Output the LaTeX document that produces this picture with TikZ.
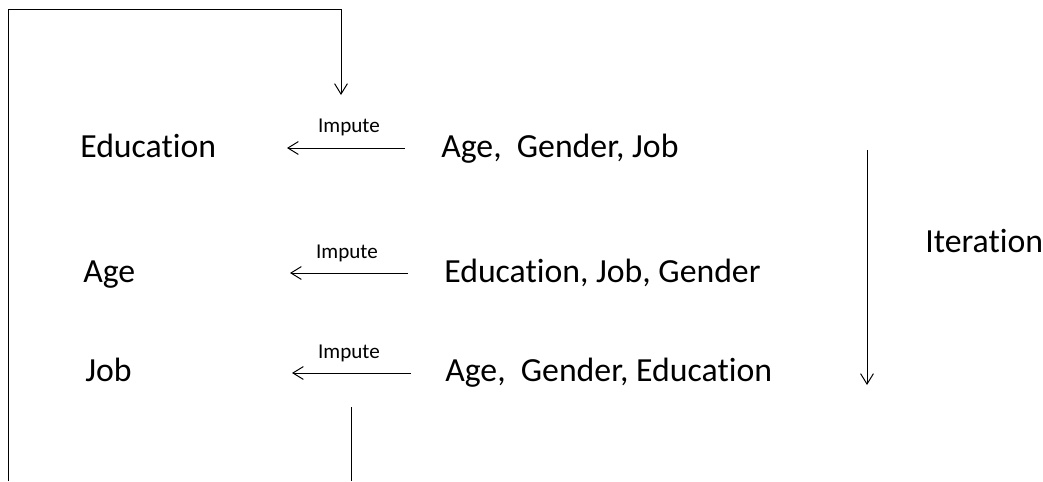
\documentclass[tikz,border=0pt]{standalone}
\usepackage{fontspec}
\setmainfont[Ligatures={NoCommon}]{Carlito}
\usetikzlibrary{arrows.meta}

\tikzset{
  big/.style={font=\fontsize{24}{29}\selectfont, inner sep=0pt, anchor=base west},
  small/.style={font=\fontsize{15}{18}\selectfont, inner sep=0pt, anchor=base},
  flow/.style={line width=0.7pt, -{Straight Barb[length=2.6mm,width=3.2mm,line width=0.7pt]}},
  plain/.style={line width=0.7pt}
}

\begin{document}
\begin{tikzpicture}[x=0.025cm, y=-0.025cm]
\useasboundingbox (0,0) rectangle (1043,481);

% Left column: imputed variable
\node[big] (lhsone) at (80,157) {Education};
\node[big] (lhstwo) at (83,282) {Age};
\node[big] (lhsthree) at (85,381) {Job};

% Right column: predictors
\node[big] (rhsone) at (441,157) {Age,\ \ Gender, Job};
\node[big] (rhstwo) at (444,282) {Education, Job, Gender};
\node[big] (rhsthree) at (445,381) {Age,\ \ Gender, Education};

% Impute arrows
\coordinate (aones) at (405,148);
\coordinate (aonee) at (287,148);
\coordinate (atwos) at (408,273);
\coordinate (atwoe) at (290,273);
\coordinate (athrees) at (411,373);
\coordinate (athreee) at (292,373);
\draw[flow] (aones) -- (aonee);
\draw[flow] (atwos) -- (atwoe);
\draw[flow] (athrees) -- (athreee);
\node[small] (impone) at (349,132) {Impute};
\node[small] (imptwo) at (347,258) {Impute};
\node[small] (impthree) at (349,358) {Impute};

% Iteration arrow
\coordinate (itertop) at (867,150);
\coordinate (iterbot) at (867,385);
\draw[flow] (itertop) -- (iterbot);
\node[big] (iter) at (925,252) {Iteration};

% Loop back to the top
\coordinate (loopbot) at (8,481);
\coordinate (loopleft) at (8,9);
\coordinate (loopright) at (341,9);
\coordinate (looptip) at (341,95);
\draw[flow] (loopbot) -- (loopleft) -- (loopright) -- (looptip);

% Line leaving at the bottom
\coordinate (outtop) at (351,407);
\coordinate (outbot) at (351,481);
\draw[plain] (outtop) -- (outbot);

\end{tikzpicture}
\end{document}
